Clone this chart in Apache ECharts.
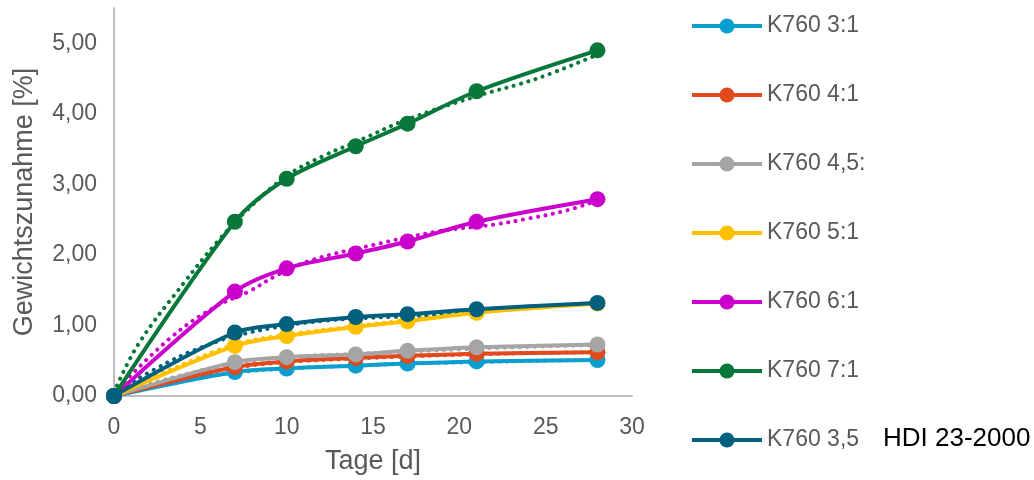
<!DOCTYPE html>
<html>
<head>
<meta charset="utf-8">
<style>
  html, body { margin: 0; padding: 0; background: #ffffff; }
  #chart { width: 1034px; height: 480px; }
</style>
<script src="https://cdn.jsdelivr.net/npm/echarts@6/dist/echarts.min.js"></script>
</head>
<body>
<div id="chart"></div>
<script>
// Lagerungstage
const days = [0, 7, 10, 14, 17, 21, 28];

// Gewichtszunahme [%] je Mischung
const k760_3_1   = [0, 0.34, 0.39, 0.43, 0.46, 0.49, 0.51];
const k760_4_1   = [0, 0.41, 0.49, 0.54, 0.57, 0.60, 0.62];
const k760_45_1  = [0, 0.48, 0.55, 0.59, 0.64, 0.69, 0.73];
const k760_5_1   = [0, 0.71, 0.85, 0.98, 1.06, 1.18, 1.31];
const k760_6_1   = [0, 1.48, 1.81, 2.02, 2.19, 2.47, 2.79];
const k760_7_1   = [0, 2.47, 3.08, 3.54, 3.86, 4.32, 4.90];
const k760_35hdi = [0, 0.90, 1.02, 1.12, 1.16, 1.23, 1.32];

// Trendlinien (x, y)
const trend_3_1   = [[0,0.02],[3.5,0.20],[7,0.33],[10,0.39],[14,0.43],[17,0.46],[21,0.48],[24.5,0.50],[28,0.51]];
const trend_4_1   = [[0,0.02],[3.5,0.24],[7,0.40],[10,0.48],[14,0.53],[17,0.56],[21,0.59],[24.5,0.61],[28,0.62]];
const trend_45_1  = [[0,0.02],[3.5,0.27],[7,0.46],[10,0.55],[14,0.60],[17,0.63],[21,0.67],[24.5,0.70],[28,0.72]];
const trend_5_1   = [[0,0.03],[3.5,0.40],[7,0.73],[10,0.87],[14,0.99],[17,1.08],[21,1.18],[24.5,1.26],[28,1.33]];
const trend_6_1   = [[0,0.05],[3.3,0.83],[5.9,1.27],[7.8,1.48],[9.5,1.72],[11.5,1.93],[15,2.14],[18.7,2.33],[22,2.43],[24.1,2.52],[26.2,2.63],[28,2.77]];
const trend_7_1   = [[0,0.05],[1.4,0.73],[4.1,1.62],[6,2.19],[7.6,2.61],[10,3.12],[12.1,3.40],[14,3.60],[17,3.92],[21,4.25],[24.5,4.50],[28,4.84]];
const trend_35hdi = [[0,0.05],[3.3,0.50],[5.3,0.71],[7,0.85],[10,1.00],[12,1.06],[14,1.10],[17,1.13],[21,1.19],[24.5,1.26],[28,1.32]];

const seriesNames = ['K760 3:1', 'K760 4:1', 'K760 4,5:1', 'K760 5:1', 'K760 6:1', 'K760 7:1', 'K760 3,5'];
const seriesValues = [k760_3_1, k760_4_1, k760_45_1, k760_5_1, k760_6_1, k760_7_1, k760_35hdi];
const trendValues = [trend_3_1, trend_4_1, trend_45_1, trend_5_1, trend_6_1, trend_7_1, trend_35hdi];
const colors = ['#0a9fcf', '#e2491c', '#a5a5a5', '#ffc000', '#cc00cc', '#07773a', '#00607e'];

const FONT = '"Liberation Sans", Arial, sans-serif';
const GREY = '#595959';

const series = [];
// dotted trend lines below the measured curves
trendValues.forEach((t, i) => {
  series.push({
    name: seriesNames[i] + ' Trend',
    type: 'line',
    data: t,
    smooth: 0.4,
    showSymbol: false,
    silent: true,
    z: 1,
    lineStyle: { color: colors[i], width: 4, type: [0.1, 7.5], cap: 'round' }
  });
});
seriesValues.forEach((v, i) => {
  series.push({
    name: seriesNames[i],
    type: 'line',
    data: days.map((d, k) => [d, v[k]]),
    smooth: 0.3,
    symbol: 'circle',
    symbolSize: 16,
    z: 2 + i,
    itemStyle: { color: colors[i] },
    lineStyle: { color: colors[i], width: 4 }
  });
});

const chart = echarts.init(document.getElementById('chart'), null, { renderer: 'canvas' });
chart.setOption({
  animation: false,
  textStyle: { fontFamily: FONT },
  grid: { left: 114, right: 402, top: 8, bottom: 81, containLabel: false },
  xAxis: {
    type: 'value',
    min: 0, max: 30, interval: 5,
    name: 'Tage [d]',
    nameLocation: 'middle',
    nameGap: 52,
    nameTextStyle: { color: GREY, fontSize: 27, fontFamily: FONT },
    axisLine: { show: true, lineStyle: { color: '#bfbfbf', width: 2 } },
    axisTick: { show: false },
    splitLine: { show: false },
    axisLabel: { color: GREY, fontSize: 23, fontFamily: FONT, margin: 20 }
  },
  yAxis: {
    type: 'value',
    min: 0, max: 5.5, interval: 1,
    name: 'Gewichtszunahme [%]',
    nameLocation: 'middle',
    nameGap: 76,
    nameTextStyle: { color: GREY, fontSize: 27, fontFamily: FONT },
    axisLine: { show: true, lineStyle: { color: '#bfbfbf', width: 2 } },
    axisTick: { show: false },
    splitLine: { show: false },
    axisLabel: {
      color: GREY, fontSize: 23, fontFamily: FONT, margin: 17,
      formatter: v => (Math.abs(v - Math.round(v)) < 1e-9 ? v.toFixed(2).replace('.', ',') : '')
    }
  },
  legend: {
    orient: 'vertical',
    left: 685,
    top: 9,
    data: seriesNames,
    itemWidth: 70,
    itemHeight: 19,
    itemGap: 45,
    lineStyle: { width: 4 },
    textStyle: {
      color: GREY, fontSize: 23, fontFamily: FONT, lineHeight: 24,
      width: 104, overflow: 'truncate', ellipsis: ''
    },
    selectedMode: false
  },
  graphic: [{
    type: 'text',
    left: 883,
    top: 426,
    style: { text: 'HDI 23-2000', fill: '#000000', fontSize: 26, fontFamily: FONT }
  }],
  series: series
});
</script>
</body>
</html>
